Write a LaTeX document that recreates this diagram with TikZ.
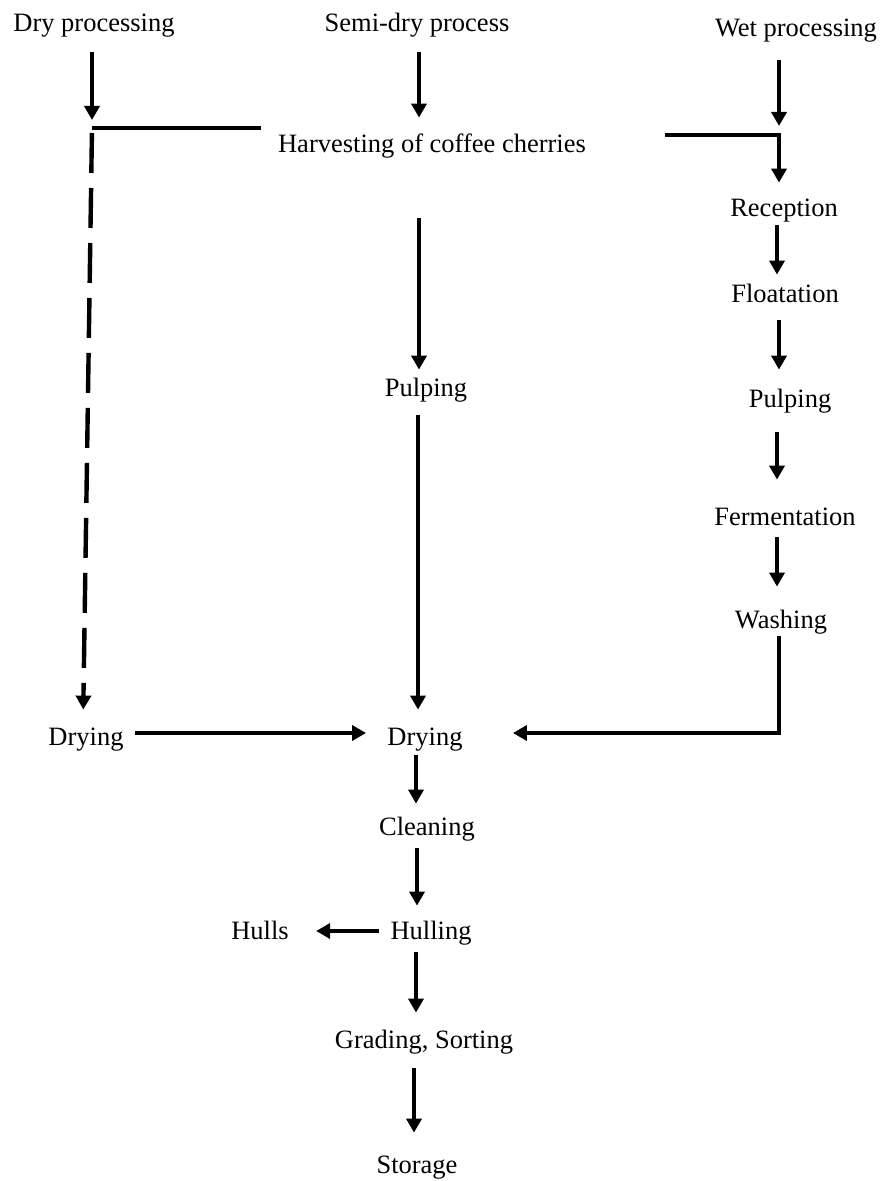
\documentclass[tikz,border=0pt]{standalone}
\usepackage{fontspec}
\setmainfont{Liberation Serif}
\usetikzlibrary{arrows.meta}

\begin{document}
\begin{tikzpicture}[x=0.5pt,y=-0.5pt,
  lbl/.style={anchor=base,inner sep=0pt,text height=9.2pt,text depth=2.9pt,
    font=\fontsize{13.25pt}{15pt}\selectfont},
  link/.style={line width=2.2pt},
  arr/.style={link,-{Triangle[length=7pt,width=7.5pt]}},
  dasharr/.style={arr,dash pattern=on 20pt off 7.5pt}]
\useasboundingbox (0,0) rectangle (883,1181);

% process labels
\node[lbl] (dry)   at (94,32)   {Dry processing};
\node[lbl] (semi)  at (417,32)  {Semi-dry process};
\node[lbl] (wet)   at (796,37)  {Wet processing};
\node[lbl] (harv)  at (432,153) {Harvesting of coffee cherries};
\node[lbl] (rec)   at (784,217) {Reception};
\node[lbl] (flo)   at (785,303) {Floatation};
\node[lbl] (pulpW) at (790,408) {Pulping};
\node[lbl] (ferm)  at (785,525) {Fermentation};
\node[lbl] (wash)  at (781,628) {Washing};
\node[lbl] (pulpM) at (426,397) {Pulping};
\node[lbl] (dryL)  at (86,745)  {Drying};
\node[lbl] (dryM)  at (425,745) {Drying};
\node[lbl] (clean) at (427,835) {Cleaning};
\node[lbl] (hull)  at (431,939) {Hulling};
\node[lbl] (hulls) at (260,939) {Hulls};
\node[lbl] (grad)  at (424,1048) {Grading, Sorting};
\node[lbl] (stor)  at (417,1173) {Storage};

% junction points of the branch lines
\coordinate (jl) at (92,128);
\coordinate (jr) at (779,135);
\coordinate (wj) at (779,733);

% inputs from the top
\draw[arr,shorten <=7.1pt,shorten >=4pt] (dry.south -| jl) -- (jl);
\draw[arr,shorten <=7.1pt,shorten >=8.3pt] (semi.south -| 419,0) -- (harv.north -| 419,0);
\draw[arr,shorten <=8.6pt,shorten >=4.5pt] (wet.south -| jr) -- (jr);

% dry branch
\draw[link,shorten <=8.5pt] (harv.west |- jl) -- (jl);
\draw[dasharr,shorten <=2.5pt,shorten >=8.3pt] (jl) -- (dryL.north -| 83,0);
\draw[arr,shorten <=5.75pt,shorten >=10.5pt] (dryL.east |- wj) -- (dryM.west |- wj);

% semi-dry branch
\draw[arr,shorten <=29.6pt,shorten >=4.3pt] (harv.south -| 419,0) -- (pulpM.north -| 419,0);
\draw[arr,shorten <=6.1pt,shorten >=8.3pt] (pulpM.south -| 418,0) -- (dryM.north -| 418,0);

% wet branch
\draw[arr,shorten <=39.5pt,shorten >=7.8pt] (harv.east |- jr) -- (jr) -- (rec.north -| jr);
\draw[arr,shorten <=1.1pt,shorten >=4.8pt] (rec.south -| 777,0) -- (flo.north -| 777,0);
\draw[arr,shorten <=5.6pt,shorten >=9.8pt] (flo.south -| 779,0) -- (pulpW.north -| 779,0);
\draw[arr,shorten <=9.1pt,shorten >=13.3pt] (pulpW.south -| 777,0) -- (ferm.north -| 777,0);
\draw[arr,shorten <=3.1pt,shorten >=11.3pt] (ferm.south -| 777,0) -- (wash.north -| 777,0);
\draw[arr,shorten <=1.1pt,shorten >=25pt] (wash.south -| wj) -- (wj) -- (dryM.east |- wj);

% common steps
\draw[arr,shorten <=2.1pt,shorten >=6.3pt] (dryM.south -| 416,0) -- (clean.north -| 416,0);
\draw[arr,shorten <=3.6pt,shorten >=7.3pt] (clean.south -| 417,0) -- (hull.north -| 417,0);
\draw[arr,shorten <=5.5pt,shorten >=13.5pt] (hull.west |- 0,931) -- (hulls.east |- 0,931);
\draw[arr,shorten <=3.6pt,shorten >=8.3pt] (hull.south -| 416,0) -- (grad.north -| 416,0);
\draw[arr,shorten <=7.1pt,shorten >=10.8pt] (grad.south -| 414,0) -- (stor.north -| 414,0);
\end{tikzpicture}
\end{document}
